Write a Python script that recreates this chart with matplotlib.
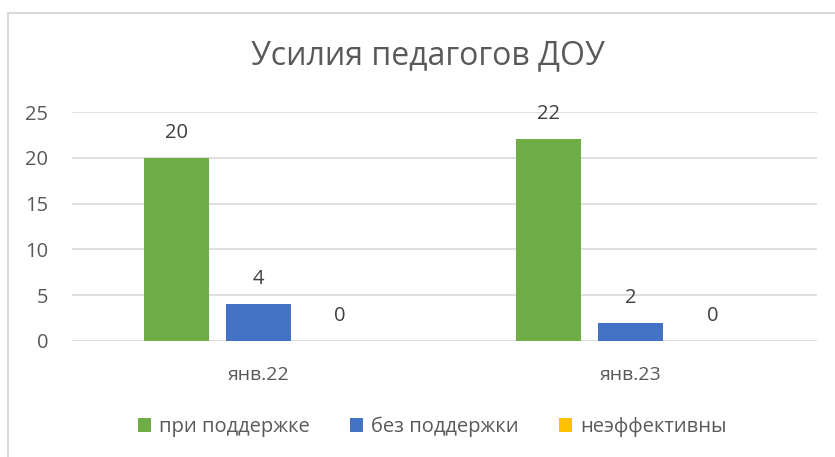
import matplotlib
matplotlib.use('Agg')
from matplotlib import pyplot as plt
from matplotlib.patches import Rectangle
import numpy as np

plt.rcParams['font.family'] = ['Open Sans', 'DejaVu Sans']

title = 'Усилия педагогов ДОУ'
categories = ['янв.22', 'янв.23']
series_names = ['при поддержке', 'без поддержки', 'неэффективны']
with_support = [20, 22]
without_support = [4, 2]
ineffective = [0, 0]
colors = ['#70AD47', '#4472C4', '#FFC000']
yticks = [0, 5, 10, 15, 20, 25]

grey = '#595959'
fig = plt.figure(figsize=(8.35, 4.57), dpi=100)
ax = fig.add_axes([72/835, 1-341/457, (817-72)/835, (341-112)/457])

x = np.arange(len(categories))
w = 0.175
step = 0.22
for i, (vals, name) in enumerate(zip([with_support, without_support, ineffective], series_names)):
    bars = ax.bar(x + (i-1)*step, vals, w, color=colors[i], label=name, zorder=3)
    for b, v in zip(bars, vals):
        ax.annotate(str(v), (b.get_x()+b.get_width()/2, v), xytext=(0, 18),
                    textcoords='offset points', ha='center', va='center',
                    fontsize=14.5, color='#404040')

ax.set_xlim(-0.5, 1.5)
ax.set_ylim(0, 25)
ax.set_yticks(yticks)
ax.set_xticks(x)
ax.set_xticklabels(categories)
ax.grid(axis='y', color='#D9D9D9', linewidth=1.2, zorder=0)
for s in ax.spines.values():
    s.set_visible(False)
ax.axhline(0, color='#D9D9D9', linewidth=1.2, zorder=1)
ax.tick_params(axis='y', length=0, labelsize=14.5, labelcolor=grey, pad=17)
ax.tick_params(axis='x', length=0, labelsize=14, labelcolor=grey, pad=18)

fig.text(0.513, 1-56/457, title, ha='center', va='center', fontsize=23, color=grey)

fig.legend(loc='center', bbox_to_anchor=(0.518, 1-427/457), ncol=3, frameon=False,
           fontsize=14.5, labelcolor=grey, handlelength=0.65, handleheight=0.65,
           handletextpad=0.4, columnspacing=2.0)

fig.add_artist(Rectangle((8/835, -0.05), 1.0, 1-13/457+0.05, transform=fig.transFigure,
                         fill=False, edgecolor='#D9D9D9', linewidth=1.5))

fig.savefig('out.png', dpi=100)
